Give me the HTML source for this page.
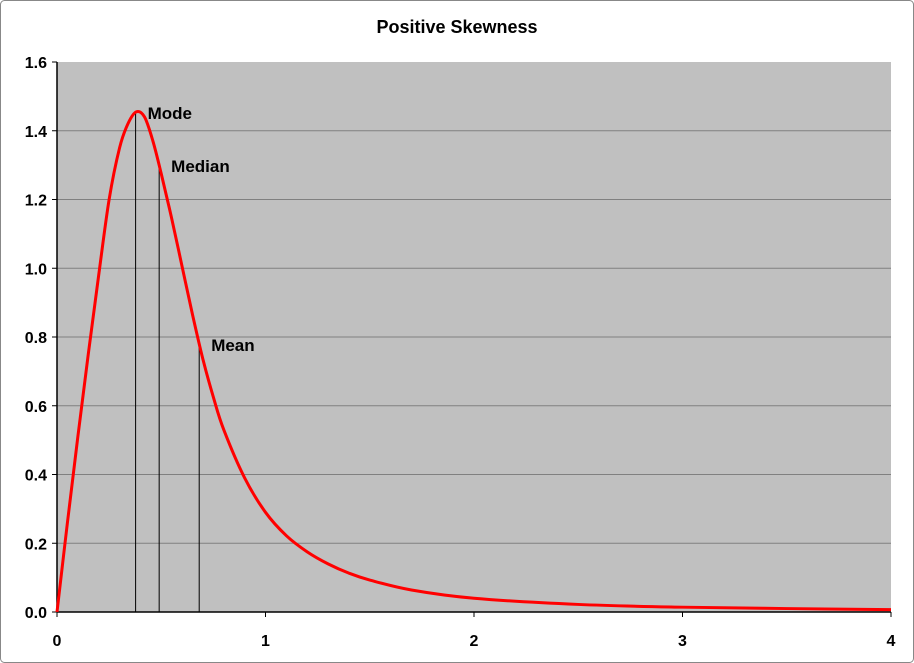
<!DOCTYPE html>
<html><head><meta charset="utf-8"><style>
html,body{margin:0;padding:0;background:#fff;}
svg{display:block;font-family:"Liberation Sans",Arial,sans-serif;}
</style></head><body>
<svg id="chart" width="914" height="663">
<rect x="0.5" y="0.5" width="913" height="662" rx="4" fill="#fff" stroke="#888"/>
<text x="457" y="33" text-anchor="middle" font-size="18" font-weight="bold">Positive Skewness</text>
<rect x="57" y="62" width="834" height="550" fill="#c0c0c0"/>
<g id="grid"></g><g id="axes"></g><g id="marks"></g>
</svg>
<script>
const xs = [0,0.05,0.1,0.15,0.2,0.25,0.3,0.34,0.38,0.42,0.46,0.5,0.55,0.6,0.65,0.7,0.75,0.8,0.9,1.0,1.1,1.2,1.3,1.4,1.5,1.7,2,2.5,3,3.5,4];
const ys = [0,0.26,0.51,0.75,0.98,1.2,1.35,1.42,1.455,1.44,1.37,1.275,1.145,1.005,0.865,0.735,0.625,0.53,0.39,0.29,0.222,0.175,0.14,0.113,0.093,0.064,0.04,0.022,0.014,0.01,0.007];
const yTicks = ["0.0","0.2","0.4","0.6","0.8","1.0","1.2","1.4","1.6"];
const xTicks = ["0","1","2","3","4"];
const markerNames = ["Mode","Median","Mean"];
const markerX = [0.377,0.49,0.682];
const markerY = [1.455,1.30,0.78];

const NS="http://www.w3.org/2000/svg";
const X0=57,X1=891,Y0=612,Y1=62;
const sx=v=>X0+(v-0)/4*(X1-X0);
const sy=v=>Y0-(v-0)/1.6*(Y0-Y1);
function mk(tag,attrs,parent){const e=document.createElementNS(NS,tag);for(const k in attrs)e.setAttribute(k,attrs[k]);parent.appendChild(e);return e;}
const grid=document.getElementById('grid'),axes=document.getElementById('axes'),marks=document.getElementById('marks');

yTicks.forEach((t,i)=>{
  const v=parseFloat(t),y=sy(v);
  if(i>0&&i<yTicks.length-1){
    const g=mk('line',{x1:X0,x2:X1,y1:y,y2:y,stroke:'#808080','stroke-width':1},grid);
    
    
  }
  const tk=mk('line',{x1:X0-5,x2:X0,y1:y,y2:y,stroke:'#000'},axes);
  
  
  const l=mk('text',{x:X0-10,y:y+6,'text-anchor':'end','font-size':16,'font-weight':'bold'},axes);
  l.textContent=t;
  
  
});
xTicks.forEach(t=>{
  const x=sx(parseFloat(t));
  const tk=mk('line',{x1:x,x2:x,y1:Y0,y2:Y0+5,stroke:'#000'},axes);
  
  
  const l=mk('text',{x:x,y:Y0+34,'text-anchor':'middle','font-size':16,'font-weight':'bold'},axes);
  l.textContent=t;
  
  
});
const ya=mk('line',{x1:X0,x2:X0,y1:Y1,y2:Y0,stroke:'#000','stroke-width':1.5},axes);


const xa=mk('line',{x1:X0,x2:X1,y1:Y0,y2:Y0,stroke:'#000','stroke-width':1.5},axes);



markerNames.forEach((n,i)=>{
  const x=sx(markerX[i]);
  const ln=mk('line',{x1:x,x2:x,y1:sy(markerY[i]),y2:Y0,stroke:'#000','stroke-width':1},marks);
  
  
  const t=mk('text',{x:x+12,y:sy(markerY[i])+7,'font-size':17,'font-weight':'bold'},marks);
  t.textContent=n;
  
  
});

const P=xs.map((x,i)=>[sx(x),sy(ys[i])]);
let d=`M${P[0][0]},${P[0][1]}`;
for(let i=0;i<P.length-1;i++){
  const p0=P[Math.max(0,i-1)],p1=P[i],p2=P[i+1],p3=P[Math.min(P.length-1,i+2)];
  const c1=[p1[0]+(p2[0]-p0[0])/6,p1[1]+(p2[1]-p0[1])/6];
  const c2=[p2[0]-(p3[0]-p1[0])/6,p2[1]-(p3[1]-p1[1])/6];
  d+=` C${c1[0]},${c1[1]} ${c2[0]},${c2[1]} ${p2[0]},${p2[1]}`;
}
const curve=mk('path',{d:d,fill:'none',stroke:'#ff0000','stroke-width':3},marks);


</script>
</body></html>
